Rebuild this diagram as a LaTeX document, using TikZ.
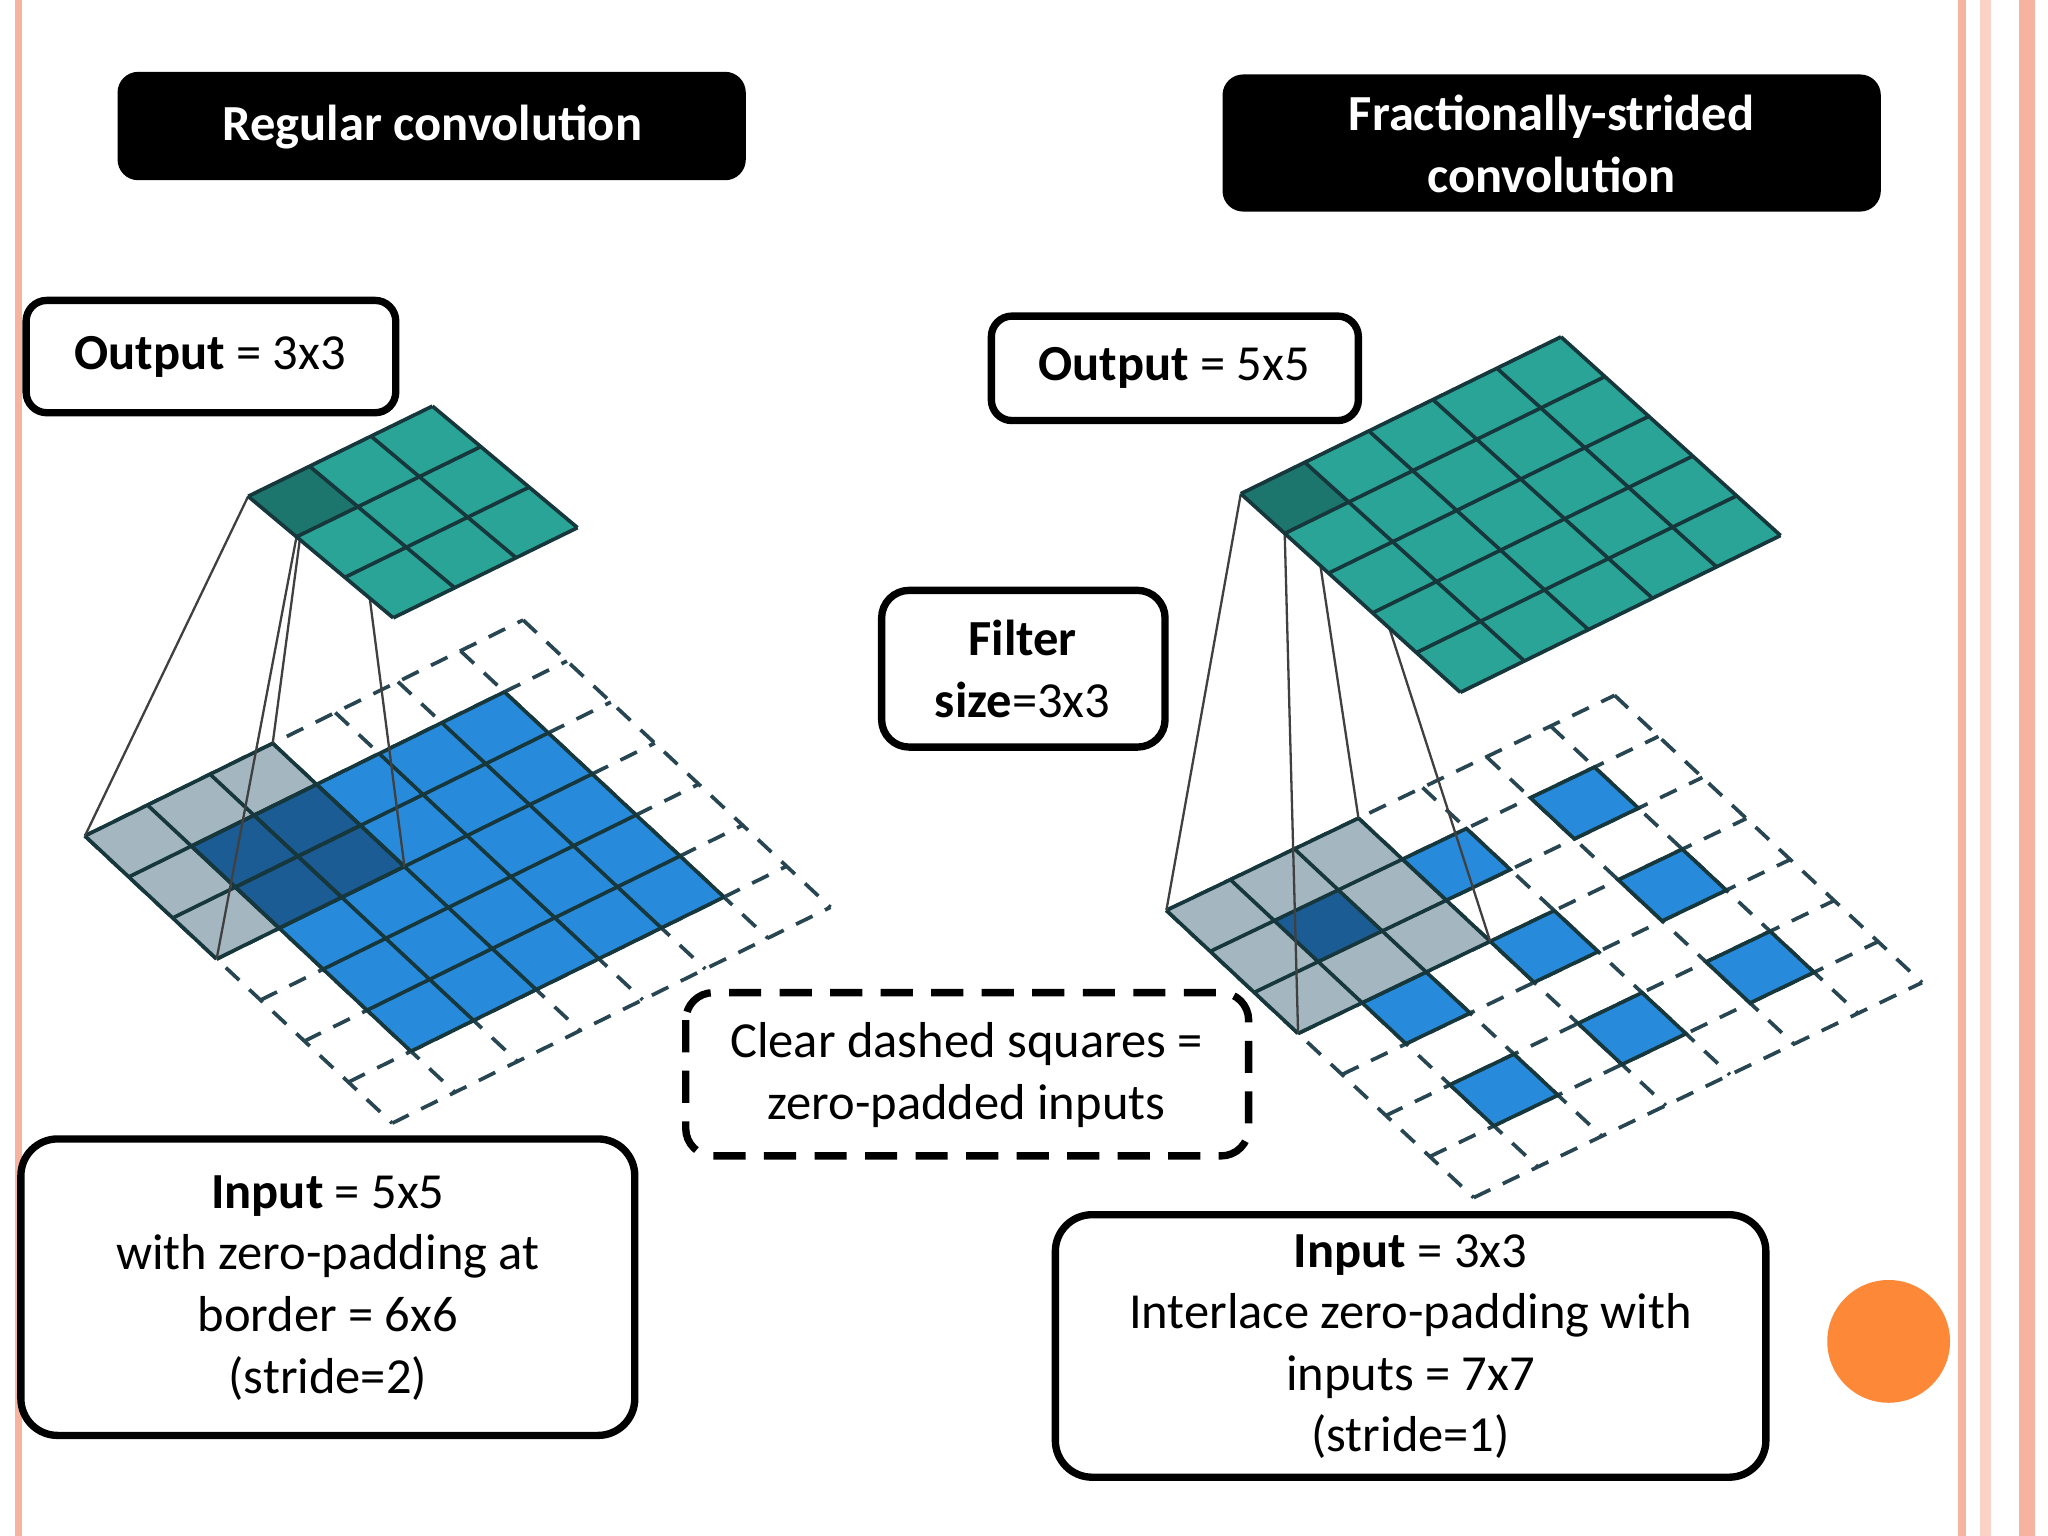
\documentclass[tikz,border=0pt]{standalone}
\usepackage{fontspec}
\setmainfont{Carlito}
\begin{document}
\definecolor{teal1}{RGB}{42,164,150}
\definecolor{teal2}{RGB}{28,118,110}
\definecolor{blue1}{RGB}{40,138,218}
\definecolor{blue2}{RGB}{28,92,148}
\definecolor{grey1}{RGB}{164,182,192}
\definecolor{gridc}{RGB}{22,56,60}
\definecolor{dashc}{RGB}{40,70,82}
\definecolor{salmon}{RGB}{246,180,160}
\definecolor{orng}{RGB}{252,136,56}
\begin{tikzpicture}[x=0.01cm,y=-0.01cm,
  txt/.style={font=\fontsize{11}{13.4}\selectfont,align=center},
  box/.style={line width=1.6pt,rounded corners=4.5pt,fill=white},
  grd/.style={draw=gridc,line width=0.8pt},
  dsh/.style={draw=dashc,line width=0.8pt,dash pattern=on 4pt off 3pt},
  cone/.style={draw=black!75,line width=0.5pt}]
\newcommand{\cell}[3]{\path[#1] (#2,#3) -- ++(1,0) -- ++(0,1) -- ++(-1,0) -- cycle;}
\newcommand{\gridlines}[4]{% style, from, to(exclusive end)
  \foreach \k in {#2,...,#3}{\draw[#1] (\k,#2) -- (\k,#3); \draw[#1] (#2,\k) -- (#3,\k);}}
\useasboundingbox (0,0) rectangle (1568,1176);
\fill[white] (0,0) rectangle (1568,1176);
\draw[salmon,line width=1.5pt] (14,0) -- (14,1176);
\fill[salmon] (1499,0) rectangle (1505,1176);
\fill[salmon!60] (1516,0) rectangle (1524,1176);
\fill[salmon] (1546,0) rectangle (1558,1176);
% titles
\fill[black,rounded corners=4.5pt] (90,55) rectangle (571,138);
\node[txt,text=white,font=\fontsize{11}{13.4}\selectfont\bfseries] (t1) at (331,97) {Regular convolution};
\fill[black,rounded corners=4.5pt] (936,57) rectangle (1440,162);
\node[txt,text=white,font=\fontsize{11}{13.4}\selectfont\bfseries] (t2) at (1188,110) {Fractionally-strided\\convolution};
% ===== LEFT input =====
\begin{scope}[shift={(65,640)},x={(0.479cm,0.236cm)},y={(0.336cm,-0.314cm)}]
\gridlines{dsh}{0}{7}{}
\fill[blue1] (1,1) -- (6,1) -- (6,6) -- (1,6) -- cycle;
\fill[grey1] (0,0) -- (3,0) -- (3,1) -- (1,1) -- (1,3) -- (0,3) -- cycle;
\fill[blue2] (1,1) -- (3,1) -- (3,3) -- (1,3) -- cycle;
\gridlines{grd}{1}{6}{}
\gridlines{grd}{0}{3}{}
\coordinate (fa) at (0,0); \coordinate (fb) at (3,0);
\coordinate (fc) at (3,3); \coordinate (fd) at (0,3);
\end{scope}
\begin{scope}[shift={(190,380)},x={(0.47cm,0.23cm)},y={(0.37cm,-0.31cm)}]
\coordinate (oa) at (0,0); \coordinate (ob) at (1,0);
\coordinate (oc) at (1,1); \coordinate (od) at (0,1);
\end{scope}
\draw[cone] (oa) -- (fa); \draw[cone] (ob) -- (fb);
\draw[cone] (oc) -- (fc); \draw[cone] (od) -- (fd);
\begin{scope}[shift={(190,380)},x={(0.47cm,0.23cm)},y={(0.37cm,-0.31cm)}]
\fill[teal1] (0,0) -- (3,0) -- (3,3) -- (0,3) -- cycle;
\cell{fill=teal2}{0}{0}
\gridlines{grd}{0}{3}{}
\end{scope}
% ===== RIGHT input =====
\begin{scope}[shift={(893,697)},x={(0.49cm,0.235cm)},y={(0.336cm,-0.314cm)}]
\gridlines{dsh}{0}{7}{}
\foreach \i in {1,3,5}{\foreach \j in {1,3,5}{
  \cell{fill=blue1,grd}{\i}{\j}}}
\fill[grey1] (0,0) -- (3,0) -- (3,3) -- (0,3) -- cycle;
\cell{fill=blue2}{1}{1}
\gridlines{grd}{0}{3}{}
\coordinate (ga) at (0,0); \coordinate (gb) at (3,0);
\coordinate (gc) at (3,3); \coordinate (gd) at (0,3);
\end{scope}
\begin{scope}[shift={(950,378)},x={(0.49cm,0.24cm)},y={(0.336cm,-0.304cm)}]
\coordinate (pa) at (0,0); \coordinate (pb) at (1,0);
\coordinate (pc) at (1,1); \coordinate (pd) at (0,1);
\end{scope}
\draw[cone] (pa) -- (ga); \draw[cone] (pb) -- (gb);
\draw[cone] (pc) -- (gc); \draw[cone] (pd) -- (gd);
\begin{scope}[shift={(950,378)},x={(0.49cm,0.24cm)},y={(0.336cm,-0.304cm)}]
\fill[teal1] (0,0) -- (5,0) -- (5,5) -- (0,5) -- cycle;
\cell{fill=teal2}{0}{0}
\gridlines{grd}{0}{5}{}
\end{scope}
% ===== label boxes =====
\draw[box] (20,230) rectangle (303,316);
\node[txt] (o1) at (161,273) {\textbf{Output} = 3x3};
\draw[box] (759,242) rectangle (1040,322);
\node[txt] (o2) at (899,282) {\textbf{Output} = 5x5};
\draw[box,rounded corners=6pt] (675,452) rectangle (892,572);
\node[txt] (fs) at (783,512) {\textbf{Filter}\\\textbf{size}=3x3};
\draw[box,rounded corners=6pt,dash pattern=on 7pt off 4pt] (525,760) rectangle (956,885);
\node[txt] (cd) at (740,823) {Clear dashed squares =\\zero-padded inputs};
\draw[box,rounded corners=8pt] (16,872) rectangle (486,1099);
\node[txt] (i1) at (251,986) {\textbf{Input} = 5x5\\with zero-padding at\\border = 6x6\\(stride=2)};
\draw[box,rounded corners=8pt] (808,930) rectangle (1352,1131);
\node[txt] (i2) at (1080,1031) {\textbf{Input} = 3x3\\Interlace zero-padding with\\inputs = 7x7\\(stride=1)};
\fill[orng] (1446,1027) circle (47);
\end{tikzpicture}
\end{document}
